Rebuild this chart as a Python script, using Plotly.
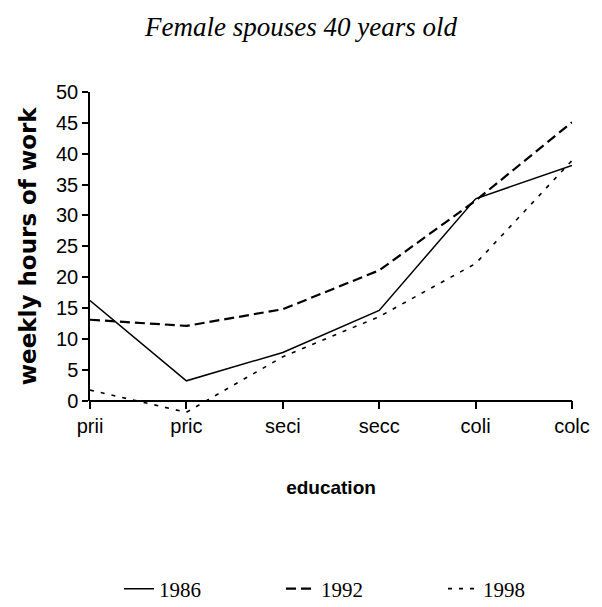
import plotly.graph_objects as go

categories = ["prii", "pric", "seci", "secc", "coli", "colc"]
y1986 = [16.2, 3.2, 7.8, 14.6, 32.7, 38.1]
y1992 = [13.1, 12.1, 14.8, 21.1, 32.4, 45.1]
y1998 = [1.7, -1.9, 7.1, 13.6, 22.2, 38.9]
series_names = ["1986", "1992", "1998"]

ymin_ext = -2.5
ymax = 50
pos0 = (0 - ymin_ext) / (ymax - ymin_ext)

# page body has an 8px default margin; size the figure to fit the window
OFF = 8
W, H = 602 - OFF, 607 - OFF

fig = go.Figure()
fig.add_trace(go.Scatter(x=categories, y=y1986, name=series_names[0], mode="lines",
                         line=dict(color="black", width=1.5), yaxis="y2"))
fig.add_trace(go.Scatter(x=categories, y=y1992, name=series_names[1], mode="lines",
                         line=dict(color="black", width=2.2, dash="10px,5px"), yaxis="y2"))
fig.add_trace(go.Scatter(x=categories, y=y1998, name=series_names[2], mode="lines",
                         line=dict(color="black", width=1.6, dash="4px,7px"), yaxis="y"))

sans = "Liberation Sans, Arial, sans-serif"
serif = "Liberation Serif, Times New Roman, serif"

fig.update_layout(
    width=W, height=H,
    margin=dict(l=90 - OFF, r=W - (576 - OFF), t=92 - OFF, b=H - (416 - OFF)),
    paper_bgcolor="white", plot_bgcolor="rgba(0,0,0,0)",
    title=dict(text="<i>Female spouses 40 years old</i>", x=(301 - OFF) / W, xref="container",
               y=1 - (27 - OFF) / H, yref="container", xanchor="center", yanchor="middle",
               font=dict(family=serif, size=27, color="black")),
    xaxis=dict(type="category", range=[0, 5], anchor="free", position=pos0,
               showline=True, linecolor="black", linewidth=1.5,
               ticks="outside", ticklen=8, tickwidth=1.5, tickcolor="black",
               showgrid=False, zeroline=False,
               tickfont=dict(family=sans, size=20, color="black"),
               title=dict(text="<b>education</b>", standoff=43,
                          font=dict(family=sans, size=19, color="black"))),
    yaxis=dict(range=[ymin_ext, ymax], domain=[0, 1], visible=False, fixedrange=True),
    yaxis2=dict(range=[0, ymax], domain=[pos0, 1], anchor="x", side="left",
                showline=True, linecolor="black", linewidth=1.5,
                ticks="outside", ticklen=6, tickwidth=1.5, tickcolor="black",
                dtick=5, tick0=0, showgrid=False, zeroline=False,
                tickfont=dict(family=sans, size=20, color="black"),
                title=dict(text="<b>weekly hours of work</b>", standoff=13,
                           font=dict(family="DejaVu Sans, sans-serif", size=23, color="black"))),
    legend=dict(orientation="h", x=(119 - OFF) / W, xref="container", xanchor="left",
                y=1 - (589 - OFF) / H, yref="container", yanchor="middle",
                font=dict(family=serif, size=21, color="black"),
                entrywidth=117, entrywidthmode="pixels"),
    showlegend=True,
)

fig.write_html("out.html")
